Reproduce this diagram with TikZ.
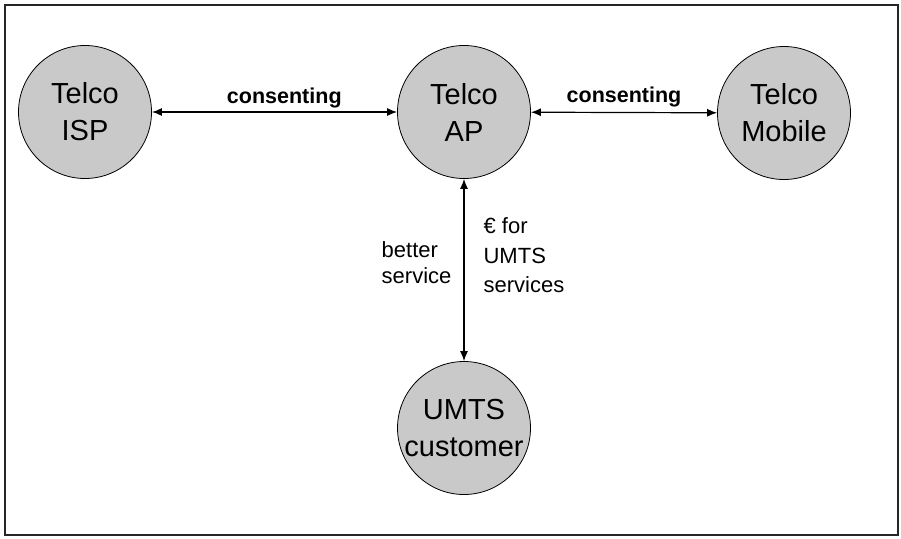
\documentclass[tikz,border=0pt]{standalone}
\usepackage{fontspec}
\setmainfont{Liberation Sans}
\usetikzlibrary{arrows.meta}

\tikzstyle{party}=[circle, draw, line width=0.8pt, fill=gray!42, minimum size=133pt, inner sep=0pt, align=center, font=\fontsize{29}{37}\selectfont]
\tikzstyle{link}=[{Latex[length=10pt,width=8pt]}-{Latex[length=10pt,width=8pt]}, line width=1.2pt]
\tikzstyle{lbl}=[inner sep=0pt, align=left, font=\fontsize{22}{27}\selectfont]

\begin{document}
\begin{tikzpicture}[x=1pt, y=-1pt]
    \useasboundingbox (0,0) rectangle (901,538);
    \draw[line width=2pt, black!85] (5,5) rectangle (898,535);
    \node[party] (isp) at (85,112) {Telco\\ISP};
    \node[party] (ap) at (464,112) {Telco\\AP};
    \node[party] (mob) at (784,113) {Telco\\Mobile};
    \node[party] (cust) at (464,428) {UMTS\\customer};
    \path[draw,link]
    (isp) edge node[lbl, font=\fontsize{21.5}{27}\selectfont\bfseries, pos=0.54, anchor=base, yshift=9pt] {consenting} (ap)
    (ap) edge node[lbl, font=\fontsize{21.5}{27}\selectfont\bfseries, anchor=base, yshift=10pt] {consenting} (mob)
    (ap) edge node[lbl, font=\fontsize{22}{26}\selectfont, pos=0.34, anchor=north east, xshift=-12pt] {better\\service}
              node[lbl, font=\fontsize{22}{29.5}\selectfont, pos=0.21, anchor=north west, xshift=19pt] {€ for\\UMTS\\services} (cust)
	;
\end{tikzpicture}
\end{document}
